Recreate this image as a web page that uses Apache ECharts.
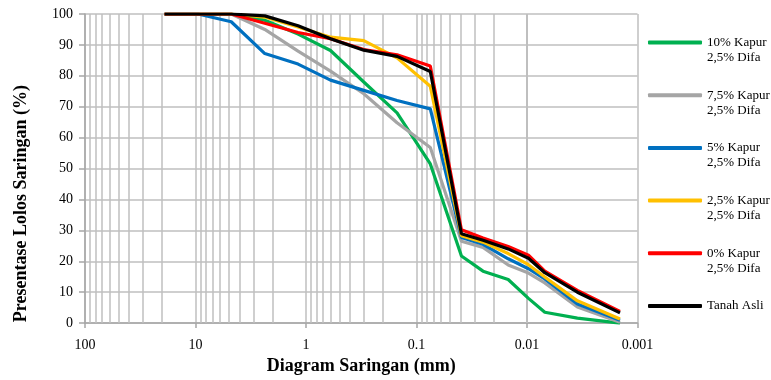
<!DOCTYPE html>
<html>
<head>
<meta charset="utf-8">
<script src="https://cdn.jsdelivr.net/npm/echarts@6/dist/echarts.min.js"></script>
<style>
html,body{margin:0;padding:0;background:#fff;}
#chart{width:771px;height:380px;}
</style>
</head>
<body>
<div id="chart"></div>
<script>
// Sieve / hydrometer diameters (mm)
const sizes = [19.05, 9.5, 4.75, 2.36, 1.18, 0.6, 0.3, 0.15, 0.075, 0.0392, 0.025, 0.0148, 0.0097, 0.0069, 0.0035, 0.00144];

const seriesNames = ['10% Kapur\n2,5% Difa', '7,5% Kapur\n2,5% Difa', '5% Kapur\n2,5% Difa', '2,5% Kapur\n2,5% Difa', '0% Kapur\n2,5% Difa', 'Tanah Asli'];

const kapur10  = [100, 100, 100, 98.0, 93.5, 88.2, 78.0, 68.0, 51.5, 21.7, 16.8, 14.1, 8.0, 3.5, 1.6, 0];
const kapur7_5 = [100, 100, 100, 95.0, 88.0, 81.5, 74.2, 64.8, 56.8, 26.5, 24.5, 18.8, 16.2, 13.0, 5.2, 0.3];
const kapur5   = [100, 100, 97.5, 87.2, 83.8, 78.6, 75.3, 72.0, 69.3, 27.7, 25.5, 20.8, 17.6, 14.3, 6.2, 0.9];
const kapur2_5 = [100, 100, 100, 99.0, 95.8, 92.5, 91.4, 85.8, 76.6, 28.3, 26.2, 22.5, 18.9, 14.9, 7.2, 1.3];
const kapur0   = [100, 100, 100, 97.0, 94.0, 92.0, 88.5, 86.8, 83.2, 30.2, 27.5, 24.8, 22.0, 16.8, 10.6, 3.8];
const tanahAsli= [100, 100, 100, 99.4, 96.2, 92.0, 88.3, 86.3, 81.4, 28.9, 26.8, 24.0, 21.0, 16.3, 10.0, 3.3];

const values = [kapur10, kapur7_5, kapur5, kapur2_5, kapur0, tanahAsli];
const colors = ['#00B050', '#A5A5A5', '#0070C0', '#FFC000', '#FF0000', '#000000'];

// minor log grid lines (2..9 within each decade)
const minorGrid = [];
[0.001, 0.01, 0.1, 1, 10].forEach(function (d) {
  for (let k = 2; k <= 9; k++) minorGrid.push(+(d * k).toPrecision(3));
});

const FONT = 'Liberation Serif';
const gridColor = '#BFBFBF';

const chart = echarts.init(document.getElementById('chart'), null, {renderer: 'canvas'});

const lineSeries = seriesNames.map(function (name, i) {
  return {
    name: name,
    type: 'line',
    data: sizes.map(function (s, j) { return [s, values[i][j]]; }),
    showSymbol: false,
    symbol: 'none',
    lineStyle: {color: colors[i], width: 3.2},
    itemStyle: {color: colors[i]},
    z: 3 + i,
    animation: false
  };
});

lineSeries.unshift({
  name: 'grid',
  type: 'line',
  data: [],
  silent: true,
  animation: false,
  markLine: {
    silent: true,
    z: 1,
    symbol: ['none', 'none'],
    label: {show: false},
    animation: false,
    lineStyle: {color: gridColor, width: 1.5, type: 'solid'},
    emphasis: {disabled: true},
    data: minorGrid.map(function (v) { return {xAxis: v}; })
  }
});

chart.setOption({
  animation: false,
  backgroundColor: '#ffffff',
  grid: {left: 85, top: 14, width: 552.5, height: 318, containLabel: false},
  legend: {
    data: seriesNames,
    orient: 'vertical',
    left: 648,
    top: 20,
    padding: 0,
    itemGap: 7.7,
    itemWidth: 54,
    itemHeight: 4,
    icon: 'roundRect',
    selectedMode: false,
    formatter: function (n) { return '\n' + n + (n.indexOf('\n') >= 0 ? '' : '\n '); },
    textStyle: {fontFamily: FONT, fontSize: 13, lineHeight: 15, color: '#000'}
  },
  xAxis: {
    type: 'log',
    logBase: 10,
    min: 0.001,
    max: 100,
    inverse: true,
    name: 'Diagram Saringan (mm)',
    nameLocation: 'middle',
    nameGap: 32,
    nameTextStyle: {fontFamily: FONT, fontSize: 18, fontWeight: 'bold', color: '#000'},
    axisLine: {show: true, lineStyle: {color: '#A6A6A6', width: 1.5}},
    axisTick: {show: true, inside: false, length: 5, lineStyle: {color: '#A6A6A6', width: 1.5}},
    axisLabel: {fontFamily: FONT, fontSize: 14, color: '#000', margin: 15,
      formatter: function (v) { return String(+v.toPrecision(3)); }},
    splitLine: {show: true, lineStyle: {color: gridColor, width: 1.5}}
  },
  yAxis: {
    type: 'value',
    min: 0,
    max: 100,
    interval: 10,
    name: 'Presentase Lolos Saringan (%)',
    nameLocation: 'middle',
    nameGap: 55,
    nameTextStyle: {fontFamily: FONT, fontSize: 18, fontWeight: 'bold', color: '#000', padding: [0, 70, 0, 0]},
    axisLine: {show: true, lineStyle: {color: '#A6A6A6', width: 1.5}},
    axisTick: {show: true, inside: false, length: 6, lineStyle: {color: '#A6A6A6', width: 1.5}},
    axisLabel: {fontFamily: FONT, fontSize: 14, color: '#000', margin: 12},
    splitLine: {show: true, lineStyle: {color: gridColor, width: 1.5}}
  },
  series: lineSeries
});
</script>
</body>
</html>
